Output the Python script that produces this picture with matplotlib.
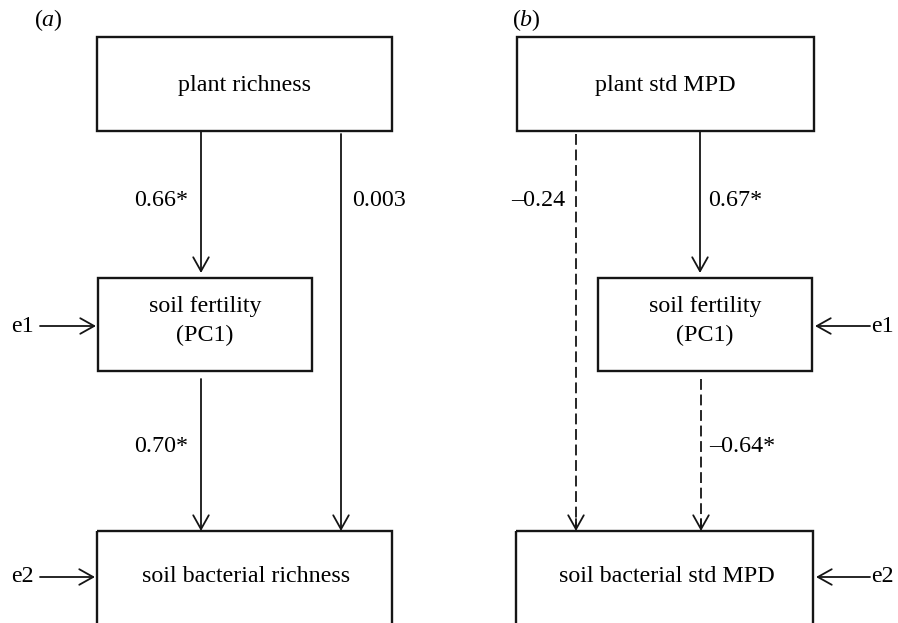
import matplotlib
matplotlib.use("Agg")
import matplotlib.pyplot as plt
from matplotlib.patches import Rectangle, FancyArrowPatch

# --- datos del diagrama de rutas ---
panel_labels = ["a", "b"]
top_nodes = ["plant richness", "plant std MPD"]
mid_nodes = ["soil fertility\n(PC1)", "soil fertility\n(PC1)"]
bottom_nodes = ["soil bacterial richness", "soil bacterial std MPD"]
coef_top_mid = ["0.66*", "0.67*"]
coef_mid_bottom = ["0.70*", "–0.64*"]
coef_top_bottom = ["0.003", "–0.24"]
negative_top_mid = [False, False]
negative_mid_bottom = [False, True]
negative_top_bottom = [False, True]
error_terms = ["e1", "e2"]

plt.rcParams["font.family"] = ["Liberation Serif", "DejaVu Serif"]
plt.rcParams["mathtext.fontset"] = "custom"
plt.rcParams["mathtext.rm"] = "Liberation Serif"
plt.rcParams["mathtext.it"] = "Liberation Serif:italic"

W, H = 898, 623
fig = plt.figure(figsize=(W / 100, H / 100), dpi=100)
ax = fig.add_axes([0, 0, 1, 1])
ax.set_xlim(0, W)
ax.set_ylim(H, 0)
ax.axis("off")

FS = 17.3
BOX_LW = 1.7
ARR_LW = 1.3
INK = "#151515"


def box(x0, x1, y0, y1):
    ax.add_patch(Rectangle((x0, y0), x1 - x0, y1 - y0, fill=False,
                           edgecolor=INK, lw=BOX_LW, clip_on=True))


def arrow(x0, y0, x1, y1, dashed=False):
    style = "->,head_length=0.5,head_width=0.28"
    if dashed:
        ax.plot([x0, x1], [y0, y1 - 3], color=INK, lw=ARR_LW,
                dashes=(6, 2.6), solid_capstyle="butt")
        ax.add_patch(FancyArrowPatch((x1, y1 - 12), (x1, y1), arrowstyle=style,
                                     mutation_scale=20, lw=ARR_LW, color=INK,
                                     shrinkA=0, shrinkB=0))
    else:
        ax.add_patch(FancyArrowPatch((x0, y0), (x1, y1), arrowstyle=style,
                                     mutation_scale=20, lw=ARR_LW, color=INK,
                                     shrinkA=0, shrinkB=0))


# geometria de cada panel (pixeles)
layouts = [
    dict(panel_x=48, top=(97, 392), mid=(98, 312), bot=(97, 392),
         x_tm=201, x_tb=341, x_mb=201,
         lab_tm=(188, "right"), lab_tb=(352, "left"), lab_mb=(188, "right"),
         err_side="left"),
    dict(panel_x=526, top=(517, 814), mid=(598, 812), bot=(516, 813),
         x_tm=700, x_tb=576, x_mb=701,
         lab_tm=(708, "left"), lab_tb=(565, "right"), lab_mb=(709, "left"),
         err_side="right"),
]

for i, lay in enumerate(layouts):
    # etiqueta del panel
    ax.text(lay["panel_x"], 20, "($\\mathit{%s}$)" % panel_labels[i], fontsize=FS,
            ha="center", va="center")

    # cajas
    box(lay["top"][0], lay["top"][1], 37, 131)
    ax.text(sum(lay["top"]) / 2, 85, top_nodes[i], fontsize=FS, ha="center", va="center")
    box(lay["mid"][0], lay["mid"][1], 278, 371)
    ax.text(sum(lay["mid"]) / 2, 321, mid_nodes[i], fontsize=FS, ha="center",
            va="center", linespacing=1.45)
    box(lay["bot"][0], lay["bot"][1], 531, 660)
    ax.text(sum(lay["bot"]) / 2 + 2, 577, bottom_nodes[i], fontsize=FS,
            ha="center", va="center")

    # flechas
    arrow(lay["x_tm"], 131, lay["x_tm"], 273, negative_top_mid[i])
    arrow(lay["x_tb"], 134, lay["x_tb"], 531, negative_top_bottom[i])
    arrow(lay["x_mb"], 379, lay["x_mb"], 531, negative_mid_bottom[i])

    # coeficientes
    ax.text(lay["lab_tm"][0], 201, coef_top_mid[i], fontsize=FS,
            ha=lay["lab_tm"][1], va="center")
    ax.text(lay["lab_tb"][0], 201, coef_top_bottom[i], fontsize=FS,
            ha=lay["lab_tb"][1], va="center")
    ax.text(lay["lab_mb"][0], 447, coef_mid_bottom[i], fontsize=FS,
            ha=lay["lab_mb"][1], va="center")

    # errores
    for e, y, bx in zip(error_terms, [326, 577], [lay["mid"], lay["bot"]]):
        if lay["err_side"] == "left":
            ax.text(11, y, e, fontsize=FS, ha="left", va="center")
            arrow(40, y, bx[0] - 2, y)
        else:
            ax.text(871, y, e, fontsize=FS, ha="left", va="center")
            arrow(870, y, bx[1] + 3, y)

fig.savefig("out.png", dpi=100)
